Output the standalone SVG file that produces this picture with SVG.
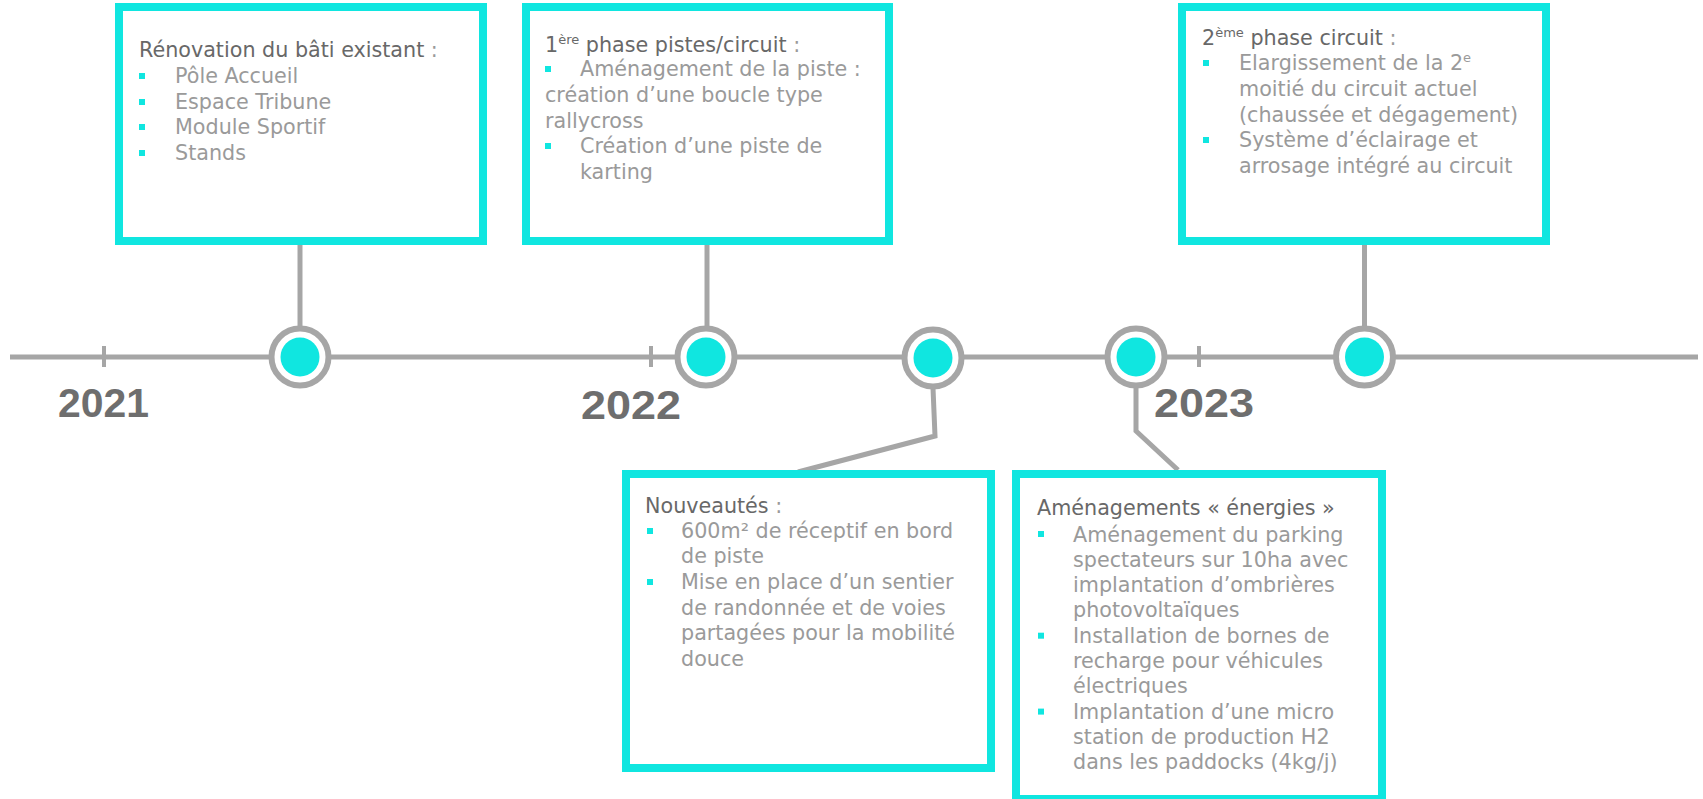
<svg xmlns="http://www.w3.org/2000/svg" width="1703" height="799" viewBox="0 0 1703 799">
<style>
.box{fill:#fff;stroke:#10e6e0;stroke-width:8}
.ln{stroke:#a6a6a6;stroke-width:5;fill:none}
.tk{stroke:#a6a6a6;stroke-width:4}
.ring{fill:#fff;stroke:#a6a6a6;stroke-width:6}
.dot{fill:#10e6e0}
.t{font-family:"DejaVu Sans","Open Sans",sans-serif;font-size:20.7px;fill:#9a9a9a}
.h{fill:#686868}
.sup{font-size:13px}
.yr{font-family:"Liberation Sans",Arial,sans-serif;font-weight:bold;font-size:41px;fill:#6e6e6e}
.b{fill:#10e6e0}
</style>
<g id="timeline">
<line class="ln" x1="10" y1="357" x2="1698" y2="357"/>
<line class="tk" x1="104" y1="346" x2="104" y2="367"/>
<line class="tk" x1="651" y1="346" x2="651" y2="367"/>
<line class="tk" x1="1199" y1="346" x2="1199" y2="367"/>
<text class="yr" x="58" y="417" textLength="91" lengthAdjust="spacingAndGlyphs">2021</text>
<text class="yr" x="581" y="419" textLength="100" lengthAdjust="spacingAndGlyphs">2022</text>
<text class="yr" x="1154" y="417" textLength="100" lengthAdjust="spacingAndGlyphs">2023</text>
</g>
<g id="connectors">
<line class="ln" x1="300" y1="245" x2="300" y2="328"/>
<line class="ln" x1="707" y1="245" x2="707" y2="328"/>
<line class="ln" x1="1364.5" y1="245" x2="1364.5" y2="328"/>
<polyline class="ln" points="933,388 935,436 798,472"/>
<polyline class="ln" points="1136,388 1136,431 1178,470"/>
</g>
<g id="m1"><circle class="ring" cx="300" cy="357" r="28.5"/><circle class="dot" cx="300" cy="357" r="19.5"/></g>
<g id="m2"><circle class="ring" cx="706" cy="357" r="28.5"/><circle class="dot" cx="706" cy="357" r="19.5"/></g>
<g id="m3"><circle class="ring" cx="933" cy="358" r="28.5"/><circle class="dot" cx="933" cy="358" r="19.5"/></g>
<g id="m4"><circle class="ring" cx="1136" cy="357" r="28.5"/><circle class="dot" cx="1136" cy="357" r="19.5"/></g>
<g id="m5"><circle class="ring" cx="1364.5" cy="357" r="28.5"/><circle class="dot" cx="1364.5" cy="357" r="19.5"/></g>

<g id="box1">
<rect class="box" x="119" y="7" width="364" height="234"/>
<text class="t h" x="139" y="57">Rénovation du bâti existant<tspan fill="#9a9a9a"> :</tspan></text>
<rect class="b" x="139" y="73" width="6" height="6"/><text class="t" x="175" y="83">Pôle Accueil</text>
<rect class="b" x="139" y="99" width="6" height="6"/><text class="t" x="175" y="109">Espace Tribune</text>
<rect class="b" x="139" y="124" width="6" height="6"/><text class="t" x="175" y="134">Module Sportif</text>
<rect class="b" x="139" y="150" width="6" height="6"/><text class="t" x="175" y="160">Stands</text>
</g>

<g id="box2">
<rect class="box" x="526" y="7" width="363" height="234"/>
<text class="t h" x="545" y="52">1<tspan class="sup" dy="-8">ère</tspan><tspan dy="8"> phase pistes/circuit</tspan><tspan fill="#9a9a9a"> :</tspan></text>
<rect class="b" x="545" y="66" width="6" height="6"/><text class="t" x="580" y="76">Aménagement de la piste :</text>
<text class="t" x="545" y="102">création d’une boucle type</text>
<text class="t" x="545" y="128">rallycross</text>
<rect class="b" x="545" y="143" width="6" height="6"/><text class="t" x="580" y="153">Création d’une piste de</text>
<text class="t" x="580" y="179">karting</text>
</g>

<g id="box3">
<rect class="box" x="1182" y="7" width="364" height="234"/>
<text class="t h" x="1202" y="45">2<tspan class="sup" dy="-8">ème</tspan><tspan dy="8"> phase circuit</tspan><tspan fill="#9a9a9a"> :</tspan></text>
<rect class="b" x="1203" y="60" width="6" height="6"/><text class="t" x="1239" y="70">Elargissement de la 2<tspan class="sup" dy="-8">e</tspan></text>
<text class="t" x="1239" y="96">moitié du circuit actuel</text>
<text class="t" x="1239" y="122">(chaussée et dégagement)</text>
<rect class="b" x="1203" y="137" width="6" height="6"/><text class="t" x="1239" y="147">Système d’éclairage et</text>
<text class="t" x="1239" y="173">arrosage intégré au circuit</text>
</g>

<g id="box4">
<rect class="box" x="626" y="474" width="365" height="294"/>
<text class="t h" x="645" y="513">Nouveautés<tspan fill="#9a9a9a">  :</tspan></text>
<rect class="b" x="647" y="528" width="6" height="6"/><text class="t" x="681" y="538">600m² de réceptif en bord</text>
<text class="t" x="681" y="563">de piste</text>
<rect class="b" x="647" y="579" width="6" height="6"/><text class="t" x="681" y="589">Mise en place d’un sentier</text>
<text class="t" x="681" y="615">de randonnée et de voies</text>
<text class="t" x="681" y="640">partagées pour la mobilité</text>
<text class="t" x="681" y="666">douce</text>
</g>

<g id="box5">
<rect class="box" x="1016" y="474" width="366" height="325"/>
<text class="t h" x="1037" y="515">Aménagements « énergies »</text>
<rect class="b" x="1038" y="531" width="6" height="6"/><text class="t" x="1073" y="541.5">Aménagement du parking</text>
<text class="t" x="1073" y="566.8">spectateurs sur 10ha avec</text>
<text class="t" x="1073" y="592.1">implantation d’ombrières</text>
<text class="t" x="1073" y="617.4">photovoltaïques</text>
<rect class="b" x="1038" y="632.7" width="6" height="6"/><text class="t" x="1073" y="642.7">Installation de bornes de</text>
<text class="t" x="1073" y="668">recharge pour véhicules</text>
<text class="t" x="1073" y="693.3">électriques</text>
<rect class="b" x="1038" y="708.6" width="6" height="6"/><text class="t" x="1073" y="718.6">Implantation d’une micro</text>
<text class="t" x="1073" y="743.9">station de production H2</text>
<text class="t" x="1073" y="769.2">dans les paddocks (4kg/j)</text>
</g>
</svg>
